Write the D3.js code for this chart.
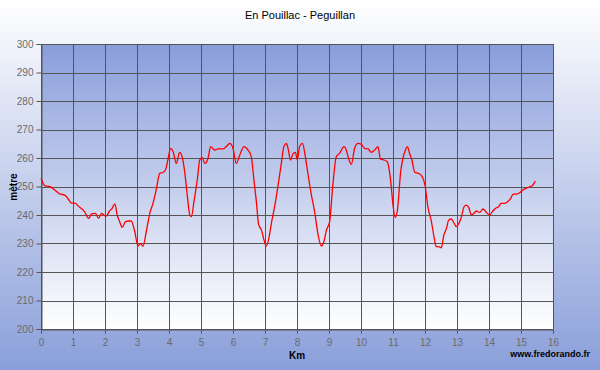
<!DOCTYPE html>
<html>
<head>
<meta charset="utf-8">
<script src="https://cdn.jsdelivr.net/npm/d3@7"></script>
<style>
  body { margin: 0; }
  text { font-family: "Liberation Sans", Arial, sans-serif; }
</style>
</head>
<body>
<div id="chart"></div>
<script>
var title = "En Pouillac - Peguillan",
    xLabel = "Km",
    yLabel = "mètre",
    credit = "www.fredorando.fr";

var xTicks = d3.range(0, 17, 1),
    yTicks = d3.range(200, 301, 10);

// distance (km) and altitude (m)
var km = [0, 0.13, 0.27, 0.43, 0.58, 0.74, 0.84, 0.95, 1.08, 1.16, 1.26, 1.36, 1.49, 1.58, 1.70, 1.80, 1.89, 1.99, 2.04, 2.14, 2.21, 2.31, 2.38, 2.44, 2.54, 2.64, 2.75,
  2.82, 2.93, 3.03, 3.10, 3.19, 3.29, 3.40, 3.50, 3.61, 3.71, 3.81, 3.89, 3.97, 4.05, 4.13, 4.23, 4.33, 4.41, 4.49, 4.57, 4.65, 4.70, 4.78, 4.89, 4.96, 5.04, 5.12, 5.22, 5.30, 5.43, 5.53,
  5.69, 5.79, 5.90, 6.00, 6.10, 6.21, 6.34, 6.47, 6.57, 6.66, 6.73, 6.80, 6.89, 6.97, 7.04, 7.12, 7.20, 7.30, 7.41, 7.51, 7.59, 7.67, 7.72, 7.80, 7.88, 7.95, 8.01, 8.08, 8.17, 8.26, 8.34,
  8.45, 8.55, 8.66, 8.76, 8.84, 8.92, 9.02, 9.12, 9.23, 9.33, 9.47, 9.54, 9.61, 9.70, 9.80, 9.91, 10.01, 10.11, 10.22, 10.32, 10.43, 10.53, 10.61, 10.72, 10.82, 10.93, 11.00, 11.07, 11.14,
  11.24, 11.31, 11.39, 11.45, 11.52, 11.59, 11.68, 11.80, 11.91, 12.00, 12.09, 12.20, 12.28, 12.35, 12.43, 12.51, 12.59, 12.67, 12.74, 12.82, 12.91, 12.98, 13.06, 13.14, 13.22, 13.29, 13.37, 13.45, 13.53, 13.60, 13.71, 13.81, 13.92, 14.02,
  14.12, 14.20, 14.30, 14.38, 14.49, 14.59, 14.68, 14.75, 14.85, 14.96, 15.06, 15.17, 15.27, 15.35, 15.45];

var altitude = [252.9, 250.2, 250.0, 248.8, 247.4, 247.0, 245.8, 244.2, 244.1, 243.2, 242.3, 241.2, 238.8, 240.4, 240.6, 238.8, 240.6, 239.8, 239.6, 241.4, 242.1, 243.9, 240.0, 238.2, 235.7, 237.7, 237.9,
  237.9, 234.2, 229.1, 230.0, 229.1, 234.2, 240.6, 244.1, 249.4, 254.6, 254.9, 255.8, 259.6, 263.4, 262.2, 258.1, 262.0, 260.5, 255.2, 247.0, 240.0, 239.4, 244.7, 252.9, 259.3, 260.1, 258.1, 259.9, 264.0, 262.8, 263.2,
  263.2, 264.0, 265.1, 263.4, 258.1, 261.0, 264.0, 262.8, 260.5, 251.7, 244.7, 236.7, 234.7, 231.2, 229.1, 231.8, 237.1, 242.9, 250.5, 258.1, 264.0, 265.1, 263.4, 259.3, 261.6, 262.0, 259.3, 264.0, 265.1, 260.5, 254.6,
  247.0, 241.2, 233.0, 229.1, 230.6, 234.7, 237.7, 250.5, 260.5, 261.6, 264.0, 262.8, 259.9, 257.8, 263.4, 265.1, 264.8, 263.4, 263.2, 262.0, 262.8, 264.0, 259.6, 259.3, 258.7, 251.7, 243.5, 239.1, 241.8,
  255.2, 259.9, 262.8, 264.0, 261.6, 259.3, 255.0, 254.6, 253.5, 250.5, 242.9, 237.7, 232.4, 228.9, 228.9, 228.5, 233.0, 235.3, 238.2, 238.6, 237.1, 235.9, 237.1, 239.4, 242.9, 243.5, 242.6, 240.0, 240.6, 241.4, 240.9, 242.1, 240.9, 240.0,
  241.4, 242.3, 242.9, 244.1, 244.1, 244.7, 245.8, 247.3, 247.3, 247.8, 248.8, 249.4, 249.9, 250.3, 251.9];

var width = 600, height = 370,
    margin = {top: 44, right: 47, bottom: 41, left: 41};

var svg = d3.select("#chart").append("svg")
  .attr("width", width)
  .attr("height", height);

var defs = svg.append("defs");

var bg = defs.append("linearGradient").attr("id", "bg")
  .attr("x1", 0).attr("y1", 0).attr("x2", 0).attr("y2", 1);
bg.append("stop").attr("offset", "0%").attr("stop-color", "#ffffff");
bg.append("stop").attr("offset", "100%").attr("stop-color", "#8a9fda");

var plotBg = defs.append("linearGradient").attr("id", "plotbg")
  .attr("x1", 0).attr("y1", 0).attr("x2", 0).attr("y2", 1);
plotBg.append("stop").attr("offset", "0%").attr("stop-color", "#899ddb");
plotBg.append("stop").attr("offset", "100%").attr("stop-color", "#ffffff");

svg.append("rect")
  .attr("width", width)
  .attr("height", height)
  .attr("fill", "url(#bg)");

var x = d3.scaleLinear().domain([0, 16]).range([margin.left, width - margin.right]);
var y = d3.scaleLinear().domain([200, 300]).range([height - margin.bottom, margin.top]);

svg.append("rect")
  .attr("x", x(0))
  .attr("y", y(300))
  .attr("width", x(16) - x(0))
  .attr("height", y(200) - y(300))
  .attr("fill", "url(#plotbg)");

// grid
svg.append("g")
  .selectAll("line")
  .data(yTicks)
  .enter().append("line")
  .attr("x1", x(0)).attr("x2", x(16))
  .attr("y1", function(d) { return Math.round(y(d)) + 0.5; })
  .attr("y2", function(d) { return Math.round(y(d)) + 0.5; })
  .attr("stroke", "#555555");

svg.append("g")
  .selectAll("line")
  .data(xTicks)
  .enter().append("line")
  .attr("x1", function(d) { return Math.round(x(d)) + 0.5; })
  .attr("x2", function(d) { return Math.round(x(d)) + 0.5; })
  .attr("y1", y(300)).attr("y2", y(200))
  .attr("stroke", "#555555");

// axes
var yAxis = svg.append("g")
  .attr("transform", "translate(" + (Math.round(x(0)) + 0.5) + ",0)")
  .call(d3.axisLeft(y).tickValues(yTicks).tickSize(5).tickPadding(3));

var xAxis = svg.append("g")
  .attr("transform", "translate(0," + (Math.round(y(200)) + 0.5) + ")")
  .call(d3.axisBottom(x).tickValues(xTicks).tickSize(4).tickPadding(5));

[yAxis, xAxis].forEach(function(a) {
  a.select(".domain").attr("stroke", "#555555");
  a.selectAll(".tick line").attr("stroke", "#555555");
  a.selectAll(".tick text")
    .attr("fill", "#6a6a6a")
    .style("font-size", "10px")
    .style("font-family", "'Liberation Sans', Arial, sans-serif");
});

// profile
var line = d3.line()
  .x(function(d) { return x(d[0]); })
  .y(function(d) { return y(d[1]); })
  .curve(d3.curveMonotoneX);

svg.append("path")
  .datum(d3.zip(km, altitude))
  .attr("fill", "none")
  .attr("stroke", "#ff0000")
  .attr("stroke-width", 1.3)
  .attr("d", line);

// labels
svg.append("text")
  .attr("x", 300).attr("y", 19)
  .attr("text-anchor", "middle")
  .style("font-size", "11px")
  .text(title);

svg.append("text")
  .attr("x", 297).attr("y", 359)
  .attr("text-anchor", "middle")
  .style("font-size", "10px")
  .style("font-weight", "bold")
  .text(xLabel);

svg.append("text")
  .attr("transform", "translate(17,187) rotate(-90)")
  .attr("text-anchor", "middle")
  .style("font-size", "10px")
  .style("font-weight", "bold")
  .text(yLabel);

svg.append("text")
  .attr("x", 590).attr("y", 357)
  .attr("text-anchor", "end")
  .style("font-size", "9px")
  .style("font-weight", "bold")
  .text(credit);
</script>
</body>
</html>
